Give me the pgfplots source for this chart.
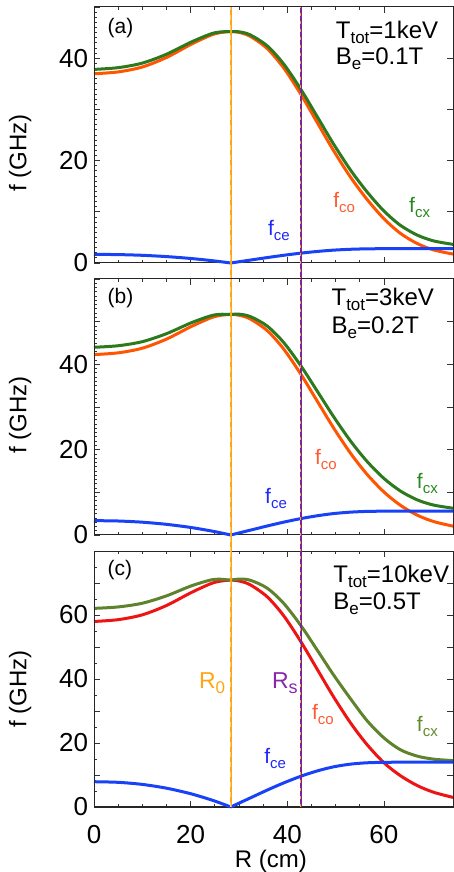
\documentclass[border=0pt]{standalone}
\usepackage{fontspec}
\setmainfont{Liberation Sans}
\usepackage{pgfplots}
\usepackage{pgfplotstable}
\pgfplotsset{compat=1.18}

\definecolor{cxg}{RGB}{45,122,30}
\definecolor{coo}{RGB}{255,85,0}
\definecolor{ceb}{RGB}{25,65,245}
\definecolor{cor}{RGB}{238,20,20}
\definecolor{cxo}{RGB}{95,130,45}
\definecolor{lco}{RGB}{255,90,50}
\definecolor{lce}{RGB}{30,40,250}
\definecolor{lcxg}{RGB}{40,135,30}
\definecolor{lcxo}{RGB}{100,138,45}
\definecolor{rzero}{RGB}{255,165,20}
\definecolor{rspur}{RGB}{120,35,160}
\definecolor{rslab}{RGB}{135,40,170}

\pgfplotstableread{
x co cx ce
0 36.96 37.81 1.68
5 37.32 38.15 1.64
10 38.28 39.04 1.50
15 40.14 40.77 1.25
20 42.66 43.10 0.884
24 44.43 44.68 0.501
26 44.97 45.11 0.28
28.3 45.20 45.20 0
30 45.04 45.16 0.238
32.3 44.29 44.57 0.56
35.8 41.92 42.45 1.05
39.2 38.18 38.94 1.498
42.8 32.96 33.93 1.921
46.2 27.43 28.58 2.254
49.6 21.92 23.21 2.512
53.1 16.75 18.14 2.68
56.5 12.44 13.90 2.764
60 8.65 10.16 2.792
63.4 5.80 7.37 2.80
66.9 3.80 5.45 2.80
70.3 2.55 4.31 2.80
74.3 1.75 3.64 2.80
}\tA

\pgfplotstableread{
x co cx ce
0 42.28 43.99 3.36
5 42.69 44.36 3.28
10 43.78 45.31 3.00
15 45.91 47.18 2.50
20 48.79 49.68 1.767
24 50.82 51.32 1.002
26 51.44 51.72 0.56
28.3 51.70 51.70 0
30 51.51 51.75 0.476
32.3 50.66 51.22 1.12
35.8 47.95 49.01 2.10
39.2 43.67 45.19 2.996
42.8 37.70 39.67 3.842
46.2 31.38 33.72 4.508
49.6 25.07 27.71 5.023
53.1 19.15 22.02 5.359
56.5 14.23 17.26 5.527
60 10.09 13.26 5.583
63.4 6.98 10.32 5.60
66.9 4.65 8.23 5.60
70.3 3.15 7.01 5.60
74.3 2.07 6.28 5.60
}\tB

\pgfplotstableread{
x co cx ce
0 57.98 62.07 7.90
5 58.54 62.52 7.71
10 60.05 63.68 7.06
15 62.97 65.98 5.88
20 66.92 69.03 4.155
24 69.69 70.88 2.357
26 70.54 71.20 1.317
28.3 70.90 70.90 0
30 70.64 71.24 1.19
32.3 69.47 70.88 2.80
35.8 65.75 68.43 5.25
39.2 59.89 63.75 7.49
42.8 51.71 56.73 9.604
46.2 43.03 49.03 11.27
49.6 34.38 41.23 12.558
53.1 26.27 33.81 13.398
56.5 19.52 27.00 13.818
60 13.84 21.60 13.958
63.4 9.80 17.90 14.00
66.9 6.70 15.90 14.00
70.3 4.60 14.95 14.00
74.3 3.00 14.50 14.00
}\tC

\pgfplotsset{
  panel/.style={
    width=359pt, height=256pt, scale only axis, clip=false,
    xmin=0, xmax=74.3,
    xtick={0,20,40,60}, minor x tick num=3,
    xticklabels={},
    ytick pos=left, xtick pos=both,
    tick align=inside,
    major tick length=6pt, minor tick length=3pt,
    tick style={black!80, line width=0.8pt},
    axis line style={black!85, line width=1pt},
    tick label style={font=\fontsize{26}{26}\selectfont},
    /pgf/number format/assume math mode=true,
    yticklabel style={xshift=-2.3pt},
    ylabel={f (GHz)},
    ylabel style={at={(axis description cs:-0.206,0.45)}, anchor=center, font=\fontsize{24}{24}\selectfont},
  },
  rticks/.style={
    width=359pt, height=256pt, scale only axis,
    xmin=0, xmax=74.3,
    hide x axis, ytick pos=right, yticklabels={},
    tick align=inside, major tick length=6pt,
    tick style={black!80, line width=0.8pt},
    axis line style={black!85, line width=1pt},
  },
  coline/.style={line width=3pt, smooth},
}

\newcommand{\fl}[1]{{\fontsize{21}{21}\selectfont f\raisebox{-5pt}{\fontsize{15}{15}\selectfont #1}}}
\newcommand{\annot}[3]{{\fontsize{24}{24}\selectfont #1\raisebox{-5pt}{\fontsize{17}{17}\selectfont #2}#3}}

\begin{document}
\begin{tikzpicture}
\path[use as bounding box] (0,0) rectangle (453pt,872pt);

% ---------- (a)
\begin{axis}[panel, at={(94pt,609pt)}, anchor=south west,
  ymin=0, ymax=50, ytick={0,10,...,50}, yticklabels={0,,20,,40,}, minor y tick num=9,
  ylabel style={at={(axis description cs:-0.206,0.43)}}]
\addplot[coo, coline] table[x=x,y=co]{\tA};
\addplot[cxg, coline] table[x=x,y=cx]{\tA};
\addplot[ceb, coline, restrict x to domain=-1:28.31] table[x=x,y=ce]{\tA};
\addplot[ceb, coline, restrict x to domain=28.29:80] table[x=x,y=ce]{\tA};
\addplot[rzero, line width=1.8pt] coordinates {(28.3,-3.4) (28.3,50)};
\addplot[white, opacity=0.45, line width=0.8pt, dash pattern=on 5pt off 5pt] coordinates {(28.3,-3.4) (28.3,50)};
\addplot[rspur, line width=1.4pt] coordinates {(42.8,-3.4) (42.8,50)};
\addplot[rzero, line width=0.8pt, dash pattern=on 3pt off 5pt] coordinates {(42.8,-3.4) (42.8,50)};
\node[anchor=base west, font=\fontsize{21}{21}\selectfont] at (axis description cs:0.028,0.896) {(a)};
\node[anchor=base west] at (axis description cs:0.664,0.875) {\annot{T}{tot}{=1keV}};
\node[anchor=base west] at (axis description cs:0.664,0.777) {\annot{B}{e}{=0.1T}};
\node[anchor=base west, text=lco, inner sep=0] at (axis cs:49.5,10.8) {\fl{co}};
\node[anchor=base west, text=lcxg, inner sep=0] at (axis cs:65.2,9.8) {\fl{cx}};
\node[anchor=base west, text=lce, inner sep=0] at (axis cs:36.0,5.3) {\fl{ce}};
\end{axis}
\begin{axis}[rticks, at={(94pt,609pt)}, anchor=south west, ymin=0, ymax=50, ytick={10,20,30,40}]
\end{axis}

% ---------- (b)
\begin{axis}[panel, at={(94pt,337pt)}, anchor=south west,
  ymin=0, ymax=60, ytick={0,10,...,60}, yticklabels={0,,20,,40,,}, minor y tick num=9,
  ylabel style={at={(axis description cs:-0.206,0.47)}}]
\addplot[coo, coline] table[x=x,y=co]{\tB};
\addplot[cxg, coline] table[x=x,y=cx]{\tB};
\addplot[ceb, coline, restrict x to domain=-1:28.31] table[x=x,y=ce]{\tB};
\addplot[ceb, coline, restrict x to domain=28.29:80] table[x=x,y=ce]{\tB};
\addplot[rzero, line width=1.8pt] coordinates {(28.3,-4.0) (28.3,60)};
\addplot[white, opacity=0.45, line width=0.8pt, dash pattern=on 5pt off 5pt] coordinates {(28.3,-4.0) (28.3,60)};
\addplot[rspur, line width=1.4pt] coordinates {(42.8,-4.0) (42.8,60)};
\addplot[rzero, line width=0.8pt, dash pattern=on 3pt off 5pt] coordinates {(42.8,-4.0) (42.8,60)};
\node[anchor=base west, font=\fontsize{21}{21}\selectfont] at (axis description cs:0.028,0.904) {(b)};
\node[anchor=base west] at (axis description cs:0.652,0.895) {\annot{T}{tot}{=3keV}};
\node[anchor=base west] at (axis description cs:0.652,0.789) {\annot{B}{e}{=0.2T}};
\node[anchor=base west, text=lco, inner sep=0] at (axis cs:45.7,16.6) {\fl{co}};
\node[anchor=base west, text=lcxg, inner sep=0] at (axis cs:66.8,10.9) {\fl{cx}};
\node[anchor=base west, text=lce, inner sep=0] at (axis cs:35.4,7.4) {\fl{ce}};
\end{axis}
\begin{axis}[rticks, at={(94pt,337pt)}, anchor=south west, ymin=0, ymax=60, ytick={10,20,30,40,50}]
\end{axis}

% ---------- (c)
\begin{axis}[panel, at={(94pt,65pt)}, anchor=south west,
  ymin=0, ymax=80, ytick={0,10,...,80}, yticklabels={0,,20,,40,,60,,}, minor y tick num=1,
  xticklabels={0,20,40,60},
  xticklabel style={anchor=base, yshift=-36pt, inner sep=0pt},
  xlabel={R (cm)},
  xlabel style={at={(axis description cs:0.493,0)}, anchor=base, yshift=-60pt, inner sep=0pt, font=\fontsize{24}{24}\selectfont},
  ylabel style={at={(axis description cs:-0.206,0.46)}}]
\addplot[cor, coline] table[x=x,y=co]{\tC};
\addplot[cxo, coline] table[x=x,y=cx]{\tC};
\addplot[ceb, coline, restrict x to domain=-1:28.31] table[x=x,y=ce]{\tC};
\addplot[ceb, coline, restrict x to domain=28.29:80] table[x=x,y=ce]{\tC};
\addplot[rzero, line width=1.8pt] coordinates {(28.3,0) (28.3,80)};
\addplot[white, opacity=0.45, line width=0.8pt, dash pattern=on 5pt off 5pt] coordinates {(28.3,0) (28.3,80)};
\addplot[rspur, line width=1.4pt] coordinates {(42.8,0) (42.8,80)};
\addplot[rzero, line width=0.8pt, dash pattern=on 3pt off 5pt] coordinates {(42.8,0) (42.8,80)};
\node[anchor=base west, font=\fontsize{21}{21}\selectfont] at (axis description cs:0.028,0.906) {(c)};
\node[anchor=base west] at (axis description cs:0.657,0.878) {\annot{T}{tot}{=10keV}};
\node[anchor=base west] at (axis description cs:0.657,0.772) {\annot{B}{e}{=0.5T}};
\node[anchor=base west, text=lco, inner sep=0] at (axis cs:45.1,27.3) {\fl{co}};
\node[anchor=base west, text=lcxo, inner sep=0] at (axis cs:66.8,23.6) {\fl{cx}};
\node[anchor=base west, text=lce, inner sep=0] at (axis cs:35.2,13.7) {\fl{ce}};
\node[anchor=base west, text=rzero, inner sep=0] at (axis cs:21.7,36.9) {{\fontsize{23}{23}\selectfont R\raisebox{-5pt}{\fontsize{17}{17}\selectfont 0}}};
\node[anchor=base west, text=rslab, inner sep=0] at (axis cs:36.8,36.9) {{\fontsize{23}{23}\selectfont R\raisebox{-5pt}{\fontsize{18}{18}\selectfont s}}};
\end{axis}
\begin{axis}[rticks, at={(94pt,65pt)}, anchor=south west, ymin=0, ymax=80, ytick={10,20,...,70}]
\end{axis}
\end{tikzpicture}
\end{document}
